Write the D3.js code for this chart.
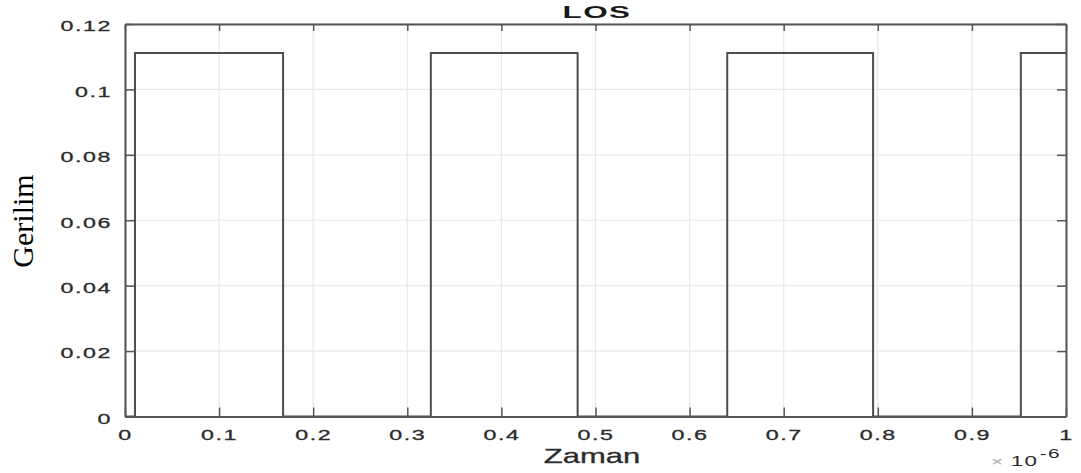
<!DOCTYPE html>
<html>
<head>
<meta charset="utf-8">
<script src="https://cdnjs.cloudflare.com/ajax/libs/d3/7.8.5/d3.min.js"></script>
<style>
  body { margin: 0; background: #fff; }
  svg { display: block; }
  .lbl { font-family: "Liberation Sans", Arial, sans-serif; }
</style>
</head>
<body>
<svg id="chart" width="1081" height="473"></svg>
<script>
// step signal: switching instants (x 10^-6 s) and level held after each one
var edgeTimes = [0, 0.0106, 0.168, 0.325, 0.481, 0.640, 0.795, 0.952, 1.0];
var levels    = [0, 0.1111, 0, 0.1111, 0, 0.1111, 0, 0.1111, 0.1111];
var xTicks = [0, 0.1, 0.2, 0.3, 0.4, 0.5, 0.6, 0.7, 0.8, 0.9, 1];
var yTicks = [0, 0.02, 0.04, 0.06, 0.08, 0.1, 0.12];

function drawChart() {
    var svg = d3.select("#chart");
    var m = {left: 125, right: 1066, top: 24, bottom: 416.5};
    var stretch = 1.55;   // the source picture is widened horizontally

    var x = d3.scaleLinear().domain([0, 1]).range([m.left, m.right]);
    var y = d3.scaleLinear().domain([0, 0.12]).range([m.bottom, m.top]);
    var fmt = d3.format("~g");

    // grid
    var grid = svg.append("g").attr("class", "grid");
    grid.selectAll("line.gx").data(xTicks).enter().append("line")
        .attr("x1", function (d) { return x(d); })
        .attr("x2", function (d) { return x(d); })
        .attr("y1", m.top).attr("y2", m.bottom)
        .attr("stroke", "#e8e8e8").attr("stroke-width", 1.2);
    grid.selectAll("line.gy").data(yTicks).enter().append("line")
        .attr("y1", function (d) { return y(d); })
        .attr("y2", function (d) { return y(d); })
        .attr("x1", m.left).attr("x2", m.right)
        .attr("stroke", "#e8e8e8").attr("stroke-width", 1.2);

    // signal
    var pts = edgeTimes.map(function (t, i) { return [t, levels[i]]; });
    var line = d3.line()
        .x(function (d) { return x(d[0]); })
        .y(function (d) { return y(d[1]); })
        .curve(d3.curveStepAfter);
    svg.append("path")
        .datum(pts)
        .attr("d", line)
        .attr("fill", "none")
        .attr("stroke", "#4d4d4d")
        .attr("stroke-width", 2);

    // axes (ticks pointing inward, box on)
    function styleAxis(g) {
        g.select(".domain").attr("stroke", "#555").attr("stroke-width", 2);
        g.selectAll(".tick line").attr("stroke", "#555").attr("stroke-width", 1.5);
    }

    var gx = svg.append("g")
        .attr("transform", "translate(0," + m.bottom + ")")
        .call(d3.axisBottom(x).tickValues(xTicks).tickSize(-9).tickSizeOuter(0).tickFormat(fmt))
        .call(styleAxis);
    gx.selectAll("text")
        .attr("class", "lbl")
        .attr("y", 23.5).attr("dy", 0)
        .attr("font-size", 15)
        .attr("letter-spacing", "1px")
        .attr("fill", "#2b2b2b")
        .attr("stroke", "#2b2b2b").attr("stroke-width", 0.3)
        .attr("transform", "scale(" + stretch + ",1)");

    var gy = svg.append("g")
        .attr("transform", "translate(" + m.left + ",0)")
        .call(d3.axisLeft(y).tickValues(yTicks).tickSize(-9).tickSizeOuter(0).tickFormat(fmt))
        .call(styleAxis);
    gy.selectAll("text")
        .attr("class", "lbl")
        .attr("x", -13 / stretch).attr("dy", "0.45em")
        .attr("font-size", 15)
        .attr("letter-spacing", "1px")
        .attr("fill", "#2b2b2b")
        .attr("stroke", "#2b2b2b").attr("stroke-width", 0.3)
        .attr("transform", "scale(" + stretch + ",1)");

    svg.append("g")
        .attr("transform", "translate(0," + m.top + ")")
        .call(d3.axisTop(x).tickValues(xTicks).tickSize(-7).tickSizeOuter(0).tickFormat(""))
        .call(styleAxis);
    svg.append("g")
        .attr("transform", "translate(" + m.right + ",0)")
        .call(d3.axisRight(y).tickValues(yTicks).tickSize(-9).tickSizeOuter(0).tickFormat(""))
        .call(styleAxis);

    // title
    svg.append("text")
        .attr("class", "lbl")
        .attr("transform", "translate(597,17.5) scale(1.85,1)")
        .attr("text-anchor", "middle")
        .attr("font-size", 17).attr("font-weight", "bold")
        .attr("letter-spacing", "0.8px")
        .attr("fill", "#1a1a1a")
        .text("LOS");

    // x label
    svg.append("text")
        .attr("class", "lbl")
        .attr("transform", "translate(592,463) scale(" + stretch + ",1)")
        .attr("text-anchor", "middle")
        .attr("font-size", 20)
        .attr("fill", "#2b2b2b")
        .attr("stroke", "#2b2b2b").attr("stroke-width", 0.3)
        .text("Zaman");

    // exponent
    var ex = svg.append("text")
        .attr("class", "lbl")
        .attr("transform", "translate(991,465.5) scale(1.6,1)")
        .attr("font-size", 14)
        .attr("letter-spacing", "0.8px")
        .attr("fill", "#2b2b2b");
    ex.append("tspan").attr("fill", "#aaa").attr("font-size", 13).text("\u00d7");
    ex.append("tspan").attr("dx", 4).text("10");
    ex.append("tspan").attr("dx", 1).attr("dy", -8).attr("font-size", 13).text("-6");

    // y label
    svg.append("text")
        .attr("transform", "translate(33,221) rotate(-90)")
        .attr("text-anchor", "middle")
        .attr("font-family", "Liberation Serif, Times New Roman, serif")
        .attr("font-size", 30)
        .attr("fill", "#000")
        .text("Gerilim");
}

drawChart();
</script>
</body>
</html>
